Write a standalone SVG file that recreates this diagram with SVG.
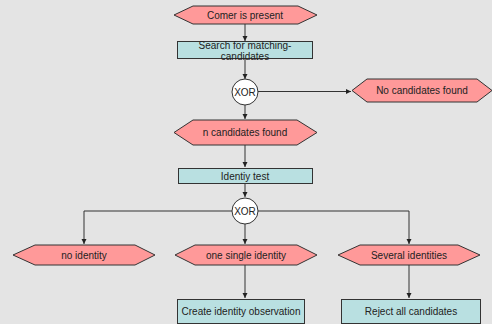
<svg xmlns="http://www.w3.org/2000/svg" width="492" height="324" viewBox="0 0 492 324">
<defs>
<marker id="ah" markerWidth="6" markerHeight="6" refX="5" refY="3" orient="auto" markerUnits="userSpaceOnUse">
<path d="M0,0.5 L5,3 L0,5.5 Z" fill="#222"/>
</marker>
<style>
.ev{fill:#ff9999;stroke:#333;stroke-width:1}
.fn{fill:#b9e0e1;stroke:#333;stroke-width:1}
.xr{fill:#fff;stroke:#333;stroke-width:1}
.t{font-family:"Liberation Sans",Arial,sans-serif;font-size:10px;fill:#222;text-anchor:middle}
.c{fill:none;stroke:#333;stroke-width:1}
</style>
</defs>
<rect width="492" height="324" fill="#e4e4e4"/>
<g id="connectors">
<path class="c" d="M245,24 V41" marker-end="url(#ah)"/>
<path class="c" d="M245,59 V79" marker-end="url(#ah)"/>
<path class="c" d="M258,91.5 H351" marker-end="url(#ah)"/>
<path class="c" d="M245,105 V119" marker-end="url(#ah)"/>
<path class="c" d="M245,145 V167" marker-end="url(#ah)"/>
<path class="c" d="M245,183 V197" marker-end="url(#ah)"/>
<path class="c" d="M232,211 H84 V244" marker-end="url(#ah)"/>
<path class="c" d="M245,224 V244" marker-end="url(#ah)"/>
<path class="c" d="M258,211 H409 V244" marker-end="url(#ah)"/>
<path class="c" d="M245,265 V298" marker-end="url(#ah)"/>
<path class="c" d="M409,265 V298" marker-end="url(#ah)"/>
</g>
<g id="corner-present">
<polygon class="ev" points="174,15 193,6 298,6 317,15 298,24 193,24"/>
<text class="t" x="245" y="18.5">Comer is present</text>
</g>
<g id="search">
<rect class="fn" x="177.5" y="41.5" width="135" height="17"/>
<text class="t" x="245" y="49">Search for matching-</text>
<text class="t" x="245" y="60">candidates</text>
</g>
<g id="xor1">
<circle class="xr" cx="245" cy="92" r="13"/>
<text class="t" x="245" y="95.5">XOR</text>
</g>
<g id="no-candidates">
<polygon class="ev" points="352,90.5 367,79 477,79 492,90.5 477,102 367,102"/>
<text class="t" x="422" y="94">No candidates found</text>
</g>
<g id="n-candidates">
<polygon class="ev" points="174,132.5 193,120 297,120 317,132.5 297,145 193,145"/>
<text class="t" x="245" y="136">n candidates found</text>
</g>
<g id="identity-test">
<rect class="fn" x="178.5" y="168.5" width="134" height="15"/>
<text class="t" x="245" y="179.5">Identiy test</text>
</g>
<g id="xor2">
<circle class="xr" cx="245" cy="211" r="13"/>
<text class="t" x="245" y="214.5">XOR</text>
</g>
<g id="no-identity">
<polygon class="ev" points="13,255 35,245 135,245 155,255 135,265 35,265"/>
<text class="t" x="84" y="258.5">no identity</text>
</g>
<g id="one-identity">
<polygon class="ev" points="175,255 195,245 297,245 317,255 297,265 195,265"/>
<text class="t" x="246" y="258.5">one single identity</text>
</g>
<g id="several-identities">
<polygon class="ev" points="338,255 360,245 458,245 480,255 458,265 360,265"/>
<text class="t" x="409" y="258.5">Several identities</text>
</g>
<g id="create-observation">
<rect class="fn" x="177.5" y="299.5" width="127" height="24"/>
<text class="t" x="241" y="315">Create identity observation</text>
</g>
<g id="reject-all">
<rect class="fn" x="341.5" y="299.5" width="139" height="24"/>
<text class="t" x="411" y="315">Reject all candidates</text>
</g>
</svg>
